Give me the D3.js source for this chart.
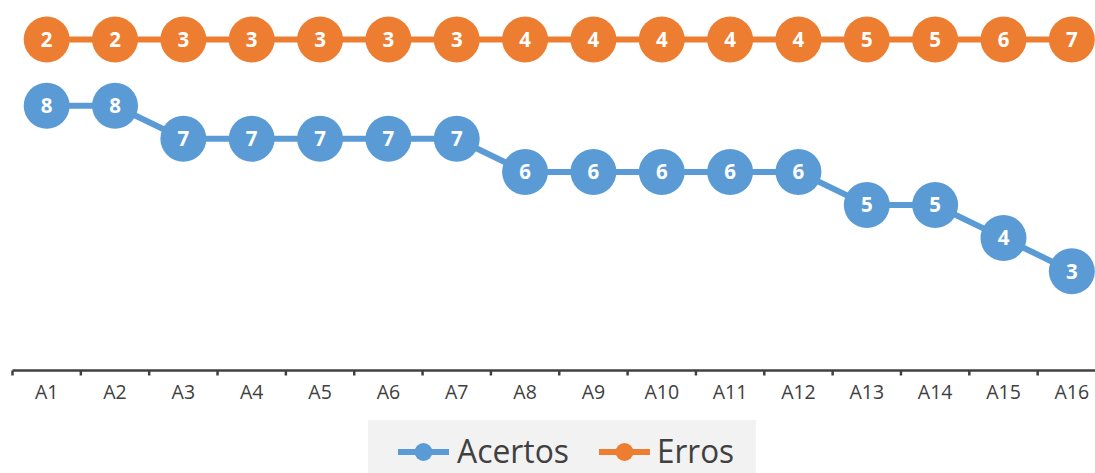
<!DOCTYPE html>
<html>
<head>
<meta charset="utf-8">
<script src="https://cdn.jsdelivr.net/npm/d3@7"></script>
<style>
  html, body { margin: 0; padding: 0; background: #ffffff; }
  svg { display: block; }
</style>
</head>
<body>
<svg id="chart" width="1095" height="473"></svg>
<script>
// Category labels and the two series (stacked: Erros sits on top of Acertos)
const categories = ["A1","A2","A3","A4","A5","A6","A7","A8","A9","A10","A11","A12","A13","A14","A15","A16"];
const acertos = [8, 8, 7, 7, 7, 7, 7, 6, 6, 6, 6, 6, 5, 5, 4, 3];
const erros   = [2, 2, 3, 3, 3, 3, 3, 4, 4, 4, 4, 4, 5, 5, 6, 7];
const seriesNames = ["Acertos", "Erros"];
const colors = { Acertos: "#5B9BD5", Erros: "#ED7D31" };

const rows = categories.map((c, i) => ({ cat: c, Acertos: acertos[i], Erros: erros[i] }));
const stacked = d3.stack().keys(seriesNames)(rows);

const svg = d3.select("#chart");
const font = "'Open Sans', 'Noto Sans', sans-serif";

const x = d3.scaleBand().domain(categories).range([12.5, 1106]);
const y = d3.scaleLinear().domain([0, 10]).range([370.5, 39.5]);

// Category axis
const axisG = svg.append("g").attr("transform", `translate(0,${y(0)})`);
axisG.append("line")
  .attr("x1", x.range()[0]).attr("x2", x.range()[1])
  .attr("stroke", "#404040").attr("stroke-width", 2.5);
const tickPos = categories.map(c => x(c)).concat([x.range()[1]]);
axisG.selectAll("line.tick").data(tickPos).join("line")
  .attr("class", "tick")
  .attr("x1", d => d).attr("x2", d => d)
  .attr("y1", 0).attr("y2", 5)
  .attr("stroke", "#404040").attr("stroke-width", 2.5);
axisG.selectAll("text").data(categories).join("text")
  .attr("x", d => x(d) + x.bandwidth() / 2)
  .attr("y", 28)
  .attr("text-anchor", "middle")
  .attr("font-family", font)
  .attr("font-size", 19.5)
  .attr("fill", "#404040")
  .text(d => d);

const line = d3.line()
  .x(d => x(d.data.cat) + x.bandwidth() / 2)
  .y(d => y(d[1]));

const layers = svg.selectAll("g.series").data(stacked).join("g").attr("class", "series");
layers.append("path")
  .attr("d", d => line(d))
  .attr("fill", "none")
  .attr("stroke", d => colors[d.key])
  .attr("stroke-width", 6)
  .attr("stroke-linejoin", "round");

layers.each(function(s) {
  const g = d3.select(this);
  const pts = g.selectAll("g.pt").data(s).join("g").attr("class", "pt")
    .attr("transform", d => `translate(${x(d.data.cat) + x.bandwidth() / 2},${y(d[1])})`);
  pts.append("circle").attr("r", 23).attr("fill", colors[s.key]);
  pts.append("text")
    .attr("text-anchor", "middle")
    .attr("dy", "0.36em")
    .attr("font-family", font)
    .attr("font-weight", "bold")
    .attr("font-size", 20.5)
    .attr("fill", "#ffffff")
    .text(d => d.data[s.key]);
});

// Legend
const legend = svg.append("g");
legend.append("rect")
  .attr("x", 368).attr("y", 420).attr("width", 388).attr("height", 60)
  .attr("fill", "#f2f2f2");
const legendItems = [
  { name: "Acertos", x0: 398, tx: 457, tw: 112 },
  { name: "Erros",   x0: 599, tx: 657, tw: 77 }
];
legendItems.forEach(it => {
  legend.append("line")
    .attr("x1", it.x0).attr("x2", it.x0 + 51)
    .attr("y1", 452).attr("y2", 452)
    .attr("stroke", colors[it.name]).attr("stroke-width", 6);
  legend.append("circle")
    .attr("cx", it.x0 + 25.5).attr("cy", 452).attr("r", 9)
    .attr("fill", colors[it.name]);
  legend.append("text")
    .attr("x", it.tx).attr("y", 463)
    .attr("font-family", font)
    .attr("font-size", 33)
    .attr("fill", "#404040")
    .attr("textLength", it.tw)
    .attr("lengthAdjust", "spacingAndGlyphs")
    .text(it.name);
});
</script>
</body>
</html>
